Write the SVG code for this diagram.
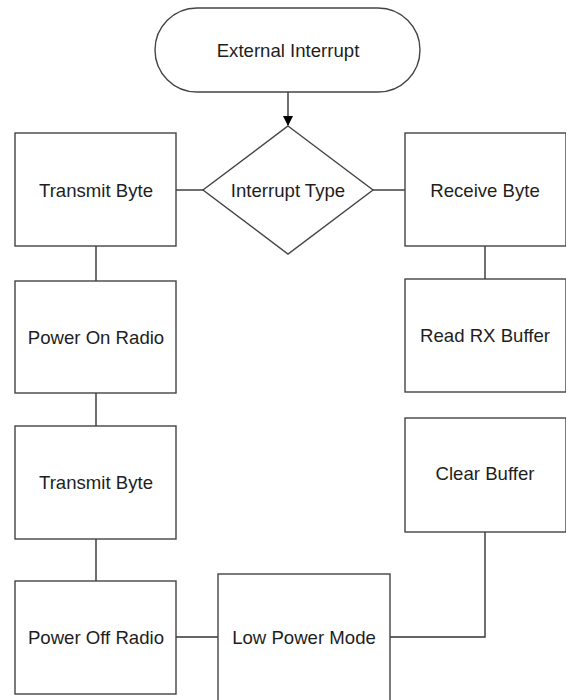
<svg xmlns="http://www.w3.org/2000/svg" width="566" height="700" viewBox="0 0 566 700">
<style>
.shape{fill:#fff;stroke:#444;stroke-width:1.4}
.lbl{font-family:"Liberation Sans",Arial,sans-serif;font-size:18.6px;fill:#1e1e1e;text-anchor:middle;dominant-baseline:central}
.conn{fill:none;stroke:#333;stroke-width:1.4}
</style>
<defs>
<marker id="arr" markerWidth="10" markerHeight="10" refX="9" refY="5" orient="auto" markerUnits="userSpaceOnUse">
<path d="M0,0 L10,5 L0,10 Z" fill="#000"/>
</marker>
</defs>
<rect width="566" height="700" fill="#fff"/>
<g id="connectors">
<line class="conn" x1="288" y1="92" x2="288" y2="125" marker-end="url(#arr)"/>
<line class="conn" x1="176" y1="190" x2="203" y2="190"/>
<line class="conn" x1="373" y1="190" x2="405" y2="190"/>
<line class="conn" x1="96" y1="246" x2="96" y2="281"/>
<line class="conn" x1="96" y1="393" x2="96" y2="426"/>
<line class="conn" x1="96" y1="539" x2="96" y2="581"/>
<line class="conn" x1="485" y1="246" x2="485" y2="279"/>
<line class="conn" x1="176" y1="637" x2="218" y2="637"/>
<polyline class="conn" points="390,637 485,637 485,532"/>
</g>
<g id="external-interrupt">
<rect class="shape" x="155" y="8" width="265" height="84" rx="42" ry="42"/>
<text class="lbl" x="288" y="50">External Interrupt</text>
</g>
<g id="interrupt-type">
<polygon class="shape" points="288,126 373,190 288,254 203,190"/>
<text class="lbl" x="288" y="190">Interrupt Type</text>
</g>
<g id="transmit-byte-1">
<rect class="shape" x="15" y="133" width="161" height="113"/>
<text class="lbl" x="96" y="190">Transmit Byte</text>
</g>
<g id="receive-byte">
<rect class="shape" x="405" y="133" width="161" height="113"/>
<text class="lbl" x="485" y="190">Receive Byte</text>
</g>
<g id="power-on-radio">
<rect class="shape" x="15" y="281" width="161" height="112"/>
<text class="lbl" x="96" y="337">Power On Radio</text>
</g>
<g id="read-rx-buffer">
<rect class="shape" x="405" y="279" width="161" height="113"/>
<text class="lbl" x="485" y="335">Read RX Buffer</text>
</g>
<g id="transmit-byte-2">
<rect class="shape" x="15" y="426" width="161" height="113"/>
<text class="lbl" x="96" y="482">Transmit Byte</text>
</g>
<g id="clear-buffer">
<rect class="shape" x="405" y="418" width="161" height="114"/>
<text class="lbl" x="485" y="473">Clear Buffer</text>
</g>
<g id="power-off-radio">
<rect class="shape" x="15" y="581" width="161" height="113"/>
<text class="lbl" x="96" y="637">Power Off Radio</text>
</g>
<g id="low-power-mode">
<rect class="shape" x="218" y="574" width="172" height="150"/>
<text class="lbl" x="304" y="637">Low Power Mode</text>
</g>
</svg>
